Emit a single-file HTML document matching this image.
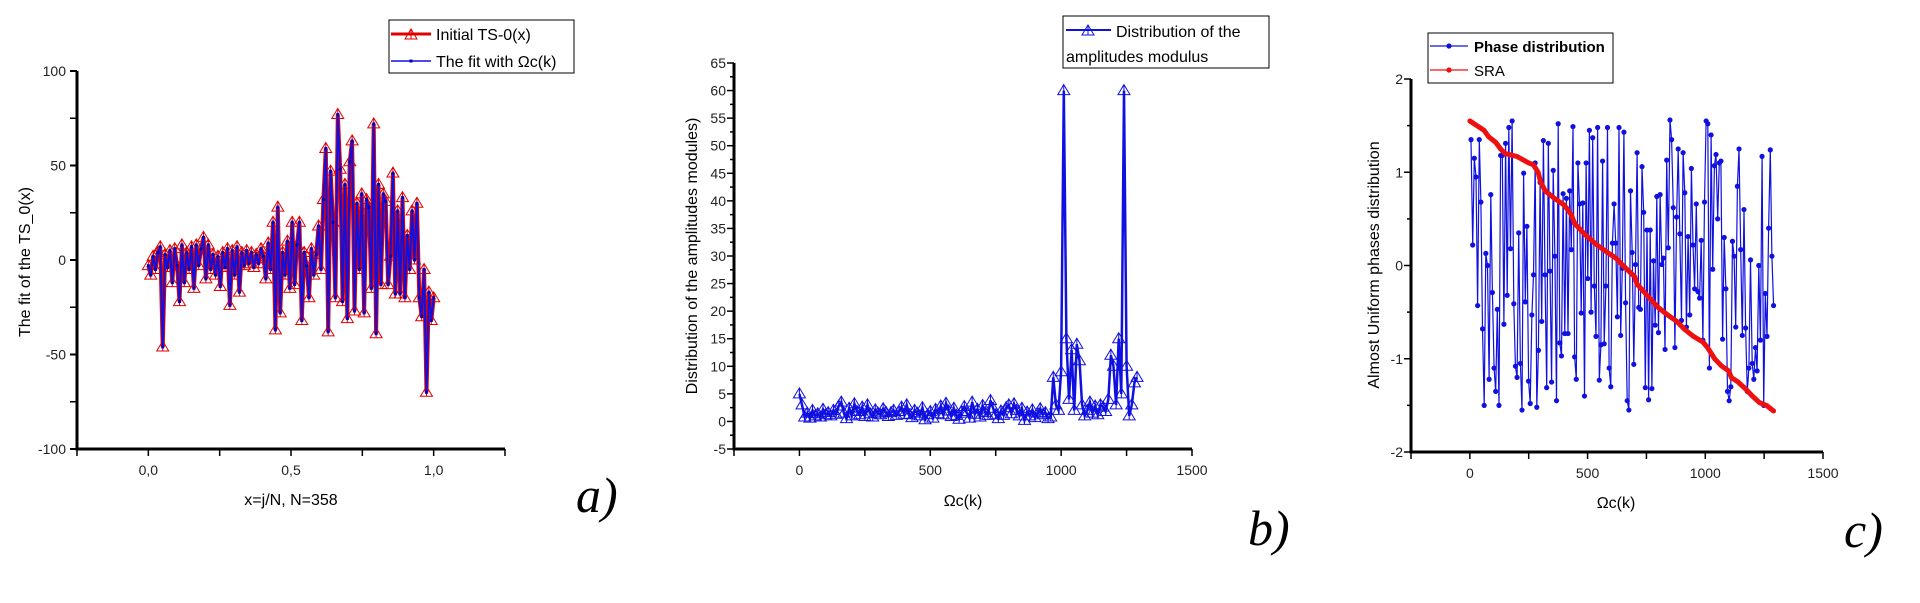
<!DOCTYPE html>
<html><head><meta charset="utf-8"><style>
html,body{margin:0;padding:0;background:#fff;}
svg{display:block;}
text{font-family:"Liberation Sans",sans-serif;}
text.lbl{font-family:"Liberation Serif",serif;font-style:italic;}
</style></head><body>
<svg id="s" width="1920" height="603" xmlns="http://www.w3.org/2000/svg"></svg>
<script>
// ---- Chart a data ----
const tsValues=[-3,-8,2,-5,4,7,-46,3,-4,5,-12,6,-3,-22,8,-12,4,-5,7,-15,8,-3,6,12,-10,8,-5,3,-8,2,-14,4,-4,6,-24,5,-8,7,-17,4,-3,5,-2,4,-4,3,-2,6,2,-10,9,-5,20,-37,28,-28,4,-8,10,-15,20,-13,8,20,-32,4,-3,-20,6,-8,3,18,-5,32,59,-38,47,20,-20,77,48,-22,40,-31,52,63,-27,30,-5,35,-28,32,28,-15,72,-39,40,-13,35,31,-13,2,46,-18,26,-18,33,-20,13,-5,26,0,30,-20,-30,-5,-70,-17,-32,-20];
const aYTicks=[100,50,0,-50,-100];
const aXTicks=["0,0","0,5","1,0"];
// ---- Chart b data ----
const ampValues=[5,3,0.8,1.5,0.6,2,1,1.4,0.8,2.2,1.2,1.6,1,2,1.3,2.8,3.5,1.5,0.5,2.4,1,3.2,1.8,1.2,2.6,0.9,3,1.4,0.8,2.1,1.5,1.2,2.3,1.7,0.9,1.6,2,1.1,1.8,2.6,1.3,3,1.2,0.7,2,1.5,1,2.5,0.3,1.2,1.8,0.6,2.2,1.4,2.8,1.2,3.3,1.9,0.9,2.4,1.1,0.4,1.8,2.7,1.5,0.6,3.5,1.3,2.2,0.8,2.9,1.6,1.1,3.8,2.4,1.2,0.5,1.9,1.1,2.5,3,1.4,3.2,2,1,2.4,0.2,1.7,1,2.1,0.7,1.5,2.3,1.2,1.6,0.5,0.8,8,3,2,9,60,15,4,13,2,14,11,3,1,2,3.5,1.5,2.8,1.2,3,2.6,1.8,4,12,10,3,15,5,60,10,1,3,7,8];
const bYTicks=[65,60,55,50,45,40,35,30,25,20,15,10,5,0,-5];
const bXTicks=[0,500,1000,1500];
// ---- Chart c data ----
const phaseValues=[1.35,0.22,1.15,0.95,-0.43,1.35,0.68,-0.68,-1.5,0.13,0,-1.22,0.76,-0.29,-1.1,-1.35,-0.47,-1.5,1.18,1.18,-0.63,1.31,-0.32,1.48,0.18,1.55,-0.41,-1.08,-1.2,0.35,-1.05,-1.55,0.99,-0.39,0.42,-1.24,-1.48,-0.53,-0.1,1.1,-1.52,-0.91,0.89,-0.6,1.34,-0.1,-1.31,1.31,-0.06,-1.25,1.02,0.1,-1.45,1.52,-0.83,-0.97,0.77,-0.73,0.72,-0.73,0.8,0.17,1.49,-0.98,-1.22,1.1,0.66,-0.51,0.67,-1.4,1.1,-0.14,1.45,-0.5,1.37,-0.22,-0.76,1.48,-1.23,-0.85,1.12,-0.84,-0.22,1.48,-1.1,-1.3,0.24,0.66,0.24,-0.55,1.48,-0.75,-0.03,1.43,-0.4,-1.45,-1.55,0.8,0.14,-1.06,0.01,1.21,-0.45,-0.47,1.06,0.57,-1.31,0.38,-1.44,0.38,-1.32,0.05,-0.64,0.74,-0.72,0.76,0.01,0.08,-0.9,1.13,0.19,1.56,1.35,0.62,-0.88,0.52,1.25,0.34,-0.59,1.21,0.78,-0.66,0.31,-0.53,1.04,0.22,-0.25,0.66,-0.28,-0.35,0.27,-0.8,0.68,1.55,1.52,-1.1,1.4,-0.04,1.07,1.19,0.5,1.1,1.12,-0.79,0.3,-0.25,-1.35,-1.45,-1.3,0.26,0.1,-0.66,0.85,1.25,0.17,-0.75,0.6,-0.67,-1.35,-1.1,0.06,-1.05,-1.22,-0.88,-1.13,0,-0.8,1.17,-1.5,-0.3,-0.76,0.4,1.24,0.1,-0.43];
const sraX=[0,30,60,80,110,130,150,200,250,270,290,300,320,360,400,430,445,490,540,590,620,650,700,710,760,800,840,880,910,950,990,1010,1040,1070,1100,1110,1140,1170,1200,1230,1260,1290];
const sraY=[1.55,1.5,1.45,1.38,1.32,1.25,1.2,1.17,1.1,1.08,1.0,0.9,0.8,0.72,0.65,0.55,0.45,0.33,0.22,0.13,0.08,0,-0.12,-0.2,-0.34,-0.45,-0.53,-0.6,-0.68,-0.76,-0.82,-0.88,-1.0,-1.08,-1.13,-1.2,-1.25,-1.32,-1.4,-1.47,-1.5,-1.56];
const cYTicks=[2,1,0,-1,-2];
const cXTicks=[0,500,1000,1500];

const NS="http://www.w3.org/2000/svg";
const svg=document.getElementById('s');
function mk(tag,attrs,parent,txt){const e=document.createElementNS(NS,tag);for(const k in attrs)e.setAttribute(k,attrs[k]);if(txt!==undefined)e.textContent=txt;(parent||svg).appendChild(e);return e;}
function lin(d0,d1,r0,r1){return v=>r0+(v-d0)*(r1-r0)/(d1-d0);}

function axes(g,x0,x1,yTop,yBot){
  const ax=mk('path',{d:`M${x0} ${yTop}V${yBot}H${x1}`,stroke:'#000','stroke-width':3,fill:'none'},g);
  
  
}
function tri(g,x,y,col,name){const t=mk('path',{d:`M${x} ${y-6}L${x+6} ${y+4}H${x-6}Z M${x} ${y-6}V${y+4}`,stroke:col,'stroke-width':1,fill:'none'},g);}

// ===== Chart a =====
{
const g=mk('g',{});
const X=lin(-0.25,1.25,77,505), Y=lin(-100,100,449,71);
axes(g,77,505,71,449);
for(let v=-100;v<=100;v+=25){const l=mk('line',{x1:70,x2:77,y1:Y(v),y2:Y(v),stroke:'#000','stroke-width':(v%50===0)?2:1.5},g);}
aYTicks.forEach(v=>{const t=mk('text',{x:66,y:Y(v)+5,'text-anchor':'end','font-size':14,fill:'#222'},g,String(v));});
for(let v=-0.25;v<=1.25;v+=0.25){const l=mk('line',{x1:X(v),x2:X(v),y1:449,y2:456,stroke:'#000','stroke-width':1.5},g);}
aXTicks.forEach((s,i)=>{const t=mk('text',{x:X(i*0.5),y:475,'text-anchor':'middle','font-size':14,fill:'#222'},g,s);});
const n=tsValues.length;
const pts=tsValues.map((v,i)=>[X(i/(n-1)),Y(v)]);
const d='M'+pts.map(p=>p[0].toFixed(1)+' '+p[1].toFixed(1)).join('L');
const r=mk('path',{d,stroke:'#e00000','stroke-width':4,fill:'none'},g);
pts.forEach(p=>tri(g,p[0],p[1],'#e00000','initial-ts-marker'));
const b=mk('path',{d,stroke:'#1010e0','stroke-width':2,fill:'none'},g);
pts.forEach(p=>{const q=mk('rect',{x:p[0]-1.5,y:p[1]-1.5,width:3,height:3,fill:'#0000c0'},g);});
const yt=mk('text',{x:0,y:0,transform:'translate(30,262) rotate(-90)','text-anchor':'middle','font-size':16,fill:'#000'},g,'The fit of the TS_0(x)');
const xt=mk('text',{x:291,y:505,'text-anchor':'middle','font-size':16,fill:'#000'},g,'x=j/N, N=358');
const pl=mk('text',{x:576,y:512,'font-size':50,'class':'lbl',fill:'#000'},g,'a)');
const lg=mk('g',{},g);
mk('rect',{x:389,y:20,width:185,height:53,fill:'#fff',stroke:'#000','stroke-width':1},lg);
mk('line',{x1:391,x2:431,y1:34,y2:34,stroke:'#e00000','stroke-width':3},lg);tri(lg,411,35,'#e00000','legend-marker');
const l1=mk('text',{x:436,y:40,'font-size':16},lg,'Initial TS-0(x)');
mk('line',{x1:391,x2:431,y1:61,y2:61,stroke:'#1010e0','stroke-width':1.5},lg);mk('rect',{x:409.5,y:59.5,width:3,height:3,fill:'#0000c0'},lg);
const l2=mk('text',{x:436,y:67,'font-size':16},lg,'The fit with Ωc(k)');
}

// ===== Chart b =====
{
const g=mk('g',{});
const X=lin(-250,1500,734,1192), Y=lin(-5,65,449,63);
axes(g,734,1192,63,449);
for(let v=-5;v<=65;v+=2.5){const l=mk('line',{x1:(v%5===0)?727:730,x2:734,y1:Y(v),y2:Y(v),stroke:'#000','stroke-width':1.5},g);}
bYTicks.forEach(v=>{const t=mk('text',{x:726,y:Y(v)+5,'text-anchor':'end','font-size':14,fill:'#222'},g,String(v));});
for(let v=-250;v<=1500;v+=250){const l=mk('line',{x1:X(v),x2:X(v),y1:449,y2:456,stroke:'#000','stroke-width':1.5},g);}
bXTicks.forEach(v=>{const t=mk('text',{x:X(v),y:475,'text-anchor':'middle','font-size':14,fill:'#222'},g,String(v));});
const n=ampValues.length;
const pts=ampValues.map((v,i)=>[X(i*1290/(n-1)),Y(v)]);
const d='M'+pts.map(p=>p[0].toFixed(1)+' '+p[1].toFixed(1)).join('L');
const b=mk('path',{d,stroke:'#1010e0','stroke-width':2.5,fill:'none'},g);
pts.forEach(p=>tri(g,p[0],p[1],'#1010e0','amplitude-marker'));
const yt=mk('text',{x:0,y:0,transform:'translate(697,256) rotate(-90)','text-anchor':'middle','font-size':16,fill:'#000'},g,'Distribution of the amplitudes modules)');
const xt=mk('text',{x:963,y:506,'text-anchor':'middle','font-size':16,fill:'#000'},g,'Ωc(k)');
const pl=mk('text',{x:1248,y:545,'font-size':50,'class':'lbl',fill:'#000'},g,'b)');
const lg=mk('g',{},g);
mk('rect',{x:1063,y:16,width:206,height:52,fill:'#fff',stroke:'#000','stroke-width':1},lg);
mk('line',{x1:1066,x2:1111,y1:30,y2:30,stroke:'#1010e0','stroke-width':2},lg);tri(lg,1088,31,'#1010e0','legend-marker');
const l1=mk('text',{x:1116,y:37,'font-size':16},lg,'Distribution of the');
mk('text',{x:1066,y:62,'font-size':16},lg,'amplitudes modulus');
}

// ===== Chart c =====
{
const g=mk('g',{});
const X=lin(-250,1500,1411,1823), Y=lin(-2,2,452,79);
axes(g,1411,1823,79,452);
for(let v=-2;v<=2;v+=0.5){const l=mk('line',{x1:(v%1===0)?1404:1407,x2:1411,y1:Y(v),y2:Y(v),stroke:'#000','stroke-width':1.5},g);}
cYTicks.forEach(v=>{const t=mk('text',{x:1403,y:Y(v)+5,'text-anchor':'end','font-size':14,fill:'#222'},g,String(v));});
for(let v=-250;v<=1500;v+=250){const l=mk('line',{x1:X(v),x2:X(v),y1:452,y2:459,stroke:'#000','stroke-width':1.5},g);}
cXTicks.forEach(v=>{const t=mk('text',{x:X(v),y:478,'text-anchor':'middle','font-size':14,fill:'#222'},g,String(v));});
const n=phaseValues.length;
const pts=phaseValues.map((v,i)=>[X(5+i*1285/(n-1)),Y(v)]);
const d='M'+pts.map(p=>p[0].toFixed(1)+' '+p[1].toFixed(1)).join('L');
const b=mk('path',{d,stroke:'#1010e0','stroke-width':1.2,fill:'none'},g);
pts.forEach(p=>{const c=mk('circle',{cx:p[0],cy:p[1],r:2.6,fill:'#1010e0'},g);});
const sp=sraX.map((x,i)=>[X(x),Y(sraY[i])]);
const r=mk('path',{d:'M'+sp.map(p=>p[0].toFixed(1)+' '+p[1].toFixed(1)).join('L'),stroke:'#ee1010','stroke-width':5,fill:'none','stroke-linejoin':'round','stroke-linecap':'round'},g);
const yt=mk('text',{x:0,y:0,transform:'translate(1379,265) rotate(-90)','text-anchor':'middle','font-size':16,fill:'#000'},g,'Almost Uniform phases distribution');
const xt=mk('text',{x:1616,y:508,'text-anchor':'middle','font-size':16,fill:'#000'},g,'Ωc(k)');
const pl=mk('text',{x:1844,y:547,'font-size':50,'class':'lbl',fill:'#000'},g,'c)');
const lg=mk('g',{},g);
mk('rect',{x:1428,y:33,width:185,height:50,fill:'#fff',stroke:'#000','stroke-width':1},lg);
mk('line',{x1:1430,x2:1468,y1:46,y2:46,stroke:'#1010e0','stroke-width':1.2},lg);mk('circle',{cx:1449,cy:46,r:2.6,fill:'#1010e0'},lg);
const l1=mk('text',{x:1474,y:52,'font-size':15,'font-weight':'bold'},lg,'Phase distribution');
mk('line',{x1:1430,x2:1468,y1:70,y2:70,stroke:'#ee1010','stroke-width':1.2},lg);mk('circle',{cx:1449,cy:70,r:2.6,fill:'#ee1010'},lg);
const l2=mk('text',{x:1474,y:76,'font-size':15},lg,'SRA');
}
</script>
</body></html>
